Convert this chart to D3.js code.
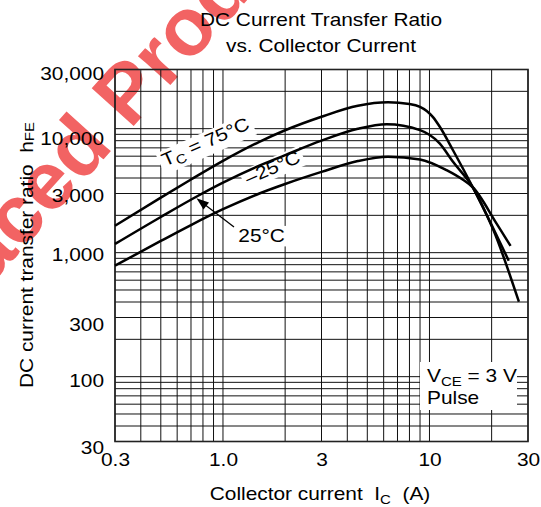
<!DOCTYPE html>
<html>
<head>
<meta charset="utf-8">
<script src="https://cdnjs.cloudflare.com/ajax/libs/d3/7.8.5/d3.min.js"></script>
<style>
  body { margin: 0; background: #fff; }
  text { font-family: "Liberation Sans", Arial, sans-serif; fill: #000; }
</style>
</head>
<body>
<div id="chart"></div>
<script>
// hFE vs Ic, log-log, three case temperatures

var tick_x = [0.3, 1, 3, 10, 30];
var tick_x_text = ["0.3", "1.0", "3", "10", "30"];
var tick_y = [30000, 10000, 3000, 1000, 300, 100, 30];
var tick_y_text = ["30,000", "10,000", "3,000", "1,000", "300", "100", "30"];

// Tc = 75 C
var ic_75  = [0.3, 0.5, 0.7, 1.0, 1.5, 2.0, 3.0, 4.5, 6.3, 8.0, 9.0, 9.7, 10.4, 11.2, 13.0, 16.2, 20.4, 27.1];
var hfe_75 = [1650, 2780, 3890, 5500, 7830, 9710, 12480, 15290, 16300, 15800, 15000, 13900, 12400, 10400, 6700, 3370, 1520, 402];

// Tc = 25 C
var ic_25  = [0.3, 0.5, 0.75, 1.0, 1.5, 2.0, 3.0, 4.5, 6.2, 9.0, 11.2, 13.0, 16.2, 19.9, 24.2];
var hfe_25 = [1175, 1940, 2850, 3670, 5035, 6120, 8000, 9970, 10850, 9730, 7600, 5400, 3370, 1700, 861];

// Tc = -25 C
var ic_m25  = [0.3, 0.5, 0.7, 1.0, 1.5, 2.0, 3.0, 4.5, 6.3, 9.0, 12.1, 14.6, 16.2, 21.1, 24.7];
var hfe_m25 = [785, 1243, 1670, 2240, 3000, 3580, 4480, 5480, 5940, 5650, 4630, 3850, 3370, 1725, 1133];

var width = 541, height = 507;
var margin = ({top: 69.5, right: 13, bottom: 65.5, left: 115});
var sx = 1.14;      // the lettering in the original is wider than Arial
var fs = 18.3;
var ylab_nudge = [9.5, 15.4, 8.2, 7.4, 12.5, 10, 11.5];

var svg = d3.select("#chart").append("svg")
    .attr("width", width)
    .attr("height", height);

var x = d3.scaleLog()
    .domain([0.3, 30])
    .range([margin.left, width - margin.right]);

var y = d3.scaleLog()
    .domain([30, 30000])
    .range([height - margin.bottom, margin.top]);

// watermark behind everything
var wm = svg.append("g")
    .attr("transform", "translate(130,130) rotate(-48)")
    .attr("opacity", 0.85)
    .attr("font-weight", "bold")
    .attr("font-size", 82);
wm.append("text").attr("x", -23).attr("text-anchor", "end").style("fill", "#f04848").text("Replaced");
wm.append("text").attr("x", 0).style("fill", "#f04848").text("Product");

// grid
var grid = svg.append("g")
    .attr("stroke", "#111")
    .attr("stroke-width", 1);

grid.selectAll("line.v")
  .data(x.ticks())
  .join("line")
    .attr("class", "v")
    .attr("x1", d => x(d)).attr("x2", d => x(d))
    .attr("y1", y(30)).attr("y2", y(30000));

grid.selectAll("line.h")
  .data(y.ticks())
  .join("line")
    .attr("class", "h")
    .attr("x1", x(0.3)).attr("x2", x(30))
    .attr("y1", d => y(d)).attr("y2", d => y(d));

svg.append("rect")
    .attr("x", x(0.3)).attr("y", y(30000))
    .attr("width", x(30) - x(0.3))
    .attr("height", y(30) - y(30000))
    .attr("fill", "none")
    .attr("stroke", "#222")
    .attr("stroke-width", 1.6);

// axes (labels only, the frame is the rect above)
var xAxis = svg.append("g")
    .attr("transform", `translate(0,${y(30)})`)
    .call(d3.axisBottom(x).tickValues(tick_x).tickFormat((d, i) => tick_x_text[i]).tickSize(0));
xAxis.select(".domain").remove();
xAxis.selectAll("text")
    .attr("font-size", fs)
    .attr("y", 0).attr("dy", null)
    .attr("transform", `translate(0,24.5) scale(${sx},1)`);

var yAxis = svg.append("g")
    .attr("transform", `translate(${x(0.3)},0)`)
    .call(d3.axisLeft(y).tickValues(tick_y).tickFormat((d, i) => tick_y_text[i]).tickSize(0));
yAxis.select(".domain").remove();
yAxis.selectAll("text")
    .attr("font-size", fs)
    .attr("x", 0).attr("dy", null)
    .attr("transform", (d, i) => `translate(-11,${ylab_nudge[i]}) scale(${sx},1)`);
svg.selectAll("g").attr("font-family", null);

// labels with white backing (drawn before the curves so the curves stay whole)
function label(px, py, angle, build) {
  var g = svg.append("g")
      .attr("transform", `translate(${px},${py}) rotate(${angle}) scale(${sx},1)`);
  var t = g.append("text").attr("font-size", fs).style("white-space", "pre");
  build(t);
  var b = t.node().getBBox();
  g.insert("rect", "text")
      .attr("x", b.x - 3).attr("y", b.y + 1)
      .attr("width", b.width + 6).attr("height", b.height)
      .attr("fill", "#fff");
  return g;
}

label(165, 166.7, -24, function(t) {
  t.append("tspan").text("T");
  t.append("tspan").attr("font-size", "0.72em").attr("dy", 4).text("C");
  t.append("tspan").attr("dy", -4).text(" = 75°C");
});

label(248.3, 185, -23.6, function(t) { t.text("–25°C"); });

label(238.3, 241.7, 0, function(t) { t.text("25°C"); });

// arrow to the 25 C curve
svg.append("line")
    .attr("x1", 234).attr("y1", 227)
    .attr("x2", 204).attr("y2", 204)
    .attr("stroke", "#000")
    .attr("stroke-width", 1.3);

svg.append("path")
    .attr("d", d3.line()([[196.5, 198.3], [209, 202.5], [203.5, 209.5]]) + "Z")
    .attr("fill", "#000");

// curves
var line = d3.line()
    .x(d => x(d[0]))
    .y(d => y(d[1]))
    .curve(d3.curveMonotoneX);

var series = [[ic_75, hfe_75], [ic_25, hfe_25], [ic_m25, hfe_m25]];

svg.append("g")
    .attr("fill", "none")
    .attr("stroke", "#000")
    .attr("stroke-width", 2.5)
    .attr("stroke-linejoin", "round")
  .selectAll("path")
  .data(series)
  .join("path")
    .attr("d", s => line(d3.zip(s[0], s[1])));

// conditions box
svg.append("rect")
    .attr("x", 420).attr("y", 362)
    .attr("width", 97).attr("height", 48)
    .attr("fill", "#fff");

var cond = svg.append("g").attr("font-size", fs);
var c1 = cond.append("text")
    .attr("transform", `translate(427,381.7) scale(${sx},1)`)
    .style("white-space", "pre");
c1.append("tspan").text("V");
c1.append("tspan").attr("font-size", "0.72em").attr("dy", 4).text("CE");
c1.append("tspan").attr("dy", -4).text(" = 3 V");
cond.append("text")
    .attr("transform", `translate(427,404.3) scale(${sx},1)`)
    .text("Pulse");

// titles
var title = svg.append("g").attr("font-size", fs).attr("text-anchor", "middle");
title.append("text")
    .attr("transform", `translate(321,25.5) scale(${sx},1)`)
    .text("DC Current Transfer Ratio");
title.append("text")
    .attr("transform", `translate(321,52) scale(${sx},1)`)
    .text("vs. Collector Current");

var xt = svg.append("text")
    .attr("font-size", fs)
    .attr("text-anchor", "middle")
    .style("white-space", "pre")
    .attr("transform", `translate(320,500) scale(${sx},1)`);
xt.append("tspan").text("Collector current  I");
xt.append("tspan").attr("font-size", "0.72em").attr("dy", 4).text("C");
xt.append("tspan").attr("dy", -4).text("  (A)");

var yt = svg.append("text")
    .attr("font-size", fs)
    .attr("text-anchor", "middle")
    .style("white-space", "pre")
    .attr("transform", `translate(33.3,255) rotate(-90) scale(${sx},1)`);
yt.append("tspan").text("DC current transfer ratio  h");
yt.append("tspan").attr("font-size", "0.72em").attr("dy", 1).text("FE");
</script>
</body>
</html>
